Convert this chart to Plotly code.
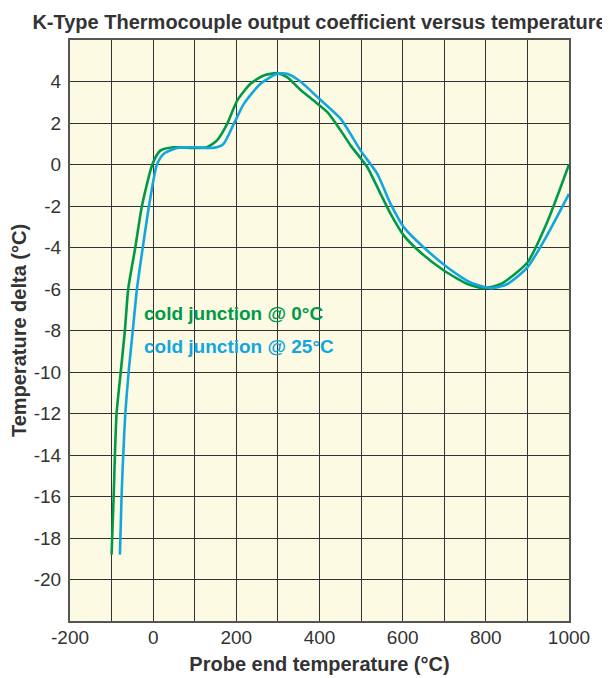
import plotly.graph_objects as go

# Cold junction @ 0°C (green)
green_x = [-100, -95, -92, -88, -78, -68, -60, -43, -27, -2, 17, 49, 97, 129, 153, 178,
           202, 234, 266, 298, 322, 354, 386, 419, 451, 475, 515, 547, 571, 603, 643,
           700, 756, 796, 836, 900, 949, 1000]
green_y = [-18.8, -16, -14, -12, -10, -8, -6, -4, -2, 0, 0.67, 0.83, 0.8, 0.83, 1.15, 1.96,
           3.08, 3.89, 4.29, 4.4, 4.21, 3.6, 3.08, 2.52, 1.64, 0.91, -0.13, -1.42, -2.38,
           -3.43, -4.24, -5.12, -5.76, -5.96, -5.76, -4.72, -2.71, 0]

# Cold junction @ 25°C (blue)
blue_x = [-80, -76, -72, -67, -59, -49, -39, -25, -10, 9, 25, 57, 97, 145, 169, 194, 218,
          258, 298, 322, 354, 402, 451, 499, 539, 571, 603, 651, 708, 764, 812, 852, 900,
          949, 1000]
blue_y = [-18.8, -16, -14, -12, -10, -8, -6, -4, -2, 0, 0.51, 0.8, 0.83, 0.8, 0.99, 1.96,
          2.92, 3.89, 4.37, 4.37, 4.0, 3.12, 2.2, 0.67, -0.45, -1.9, -3.03, -4.0, -4.96,
          -5.69, -5.96, -5.76, -4.96, -3.35, -1.42]

x_tickvals = list(range(-200, 1001, 100))
x_ticktext = [str(v) if v % 200 == 0 else "" for v in x_tickvals]
y_tickvals = list(range(-22, 7, 2))
y_ticktext = [str(v) if -20 <= v <= 4 else "" for v in y_tickvals]

GREEN = "#00994A"
BLUE = "#12A6E0"
TXT = "#333333"
FONT = "Liberation Sans, Arial, sans-serif"

W, H = 602, 670  # page body has an 8px margin

fig = go.Figure()
fig.add_trace(go.Scatter(x=green_x, y=green_y, mode="lines",
                         line=dict(color=GREEN, width=2.6, shape="spline", smoothing=0.6),
                         name="cold junction @ 0°C", showlegend=False))
fig.add_trace(go.Scatter(x=blue_x, y=blue_y, mode="lines",
                         line=dict(color=BLUE, width=2.6, shape="spline", smoothing=0.6),
                         name="cold junction @ 25°C", showlegend=False))

fig.add_annotation(x=-27, y=-7.2, xref="x", yref="y", xanchor="left", yanchor="middle",
                   text="<b>cold junction @ 0°C</b>", showarrow=False,
                   font=dict(family=FONT, size=19, color=GREEN))
fig.add_annotation(x=-27, y=-8.75, xref="x", yref="y", xanchor="left", yanchor="middle",
                   text="<b>cold junction @ 25°C</b>", showarrow=False,
                   font=dict(family=FONT, size=19, color=BLUE))

fig.update_layout(
    width=W, height=H,
    margin=dict(l=62, r=41, t=32, b=57, autoexpand=False),
    paper_bgcolor="white",
    plot_bgcolor="#FDFAE3",
    font=dict(family=FONT, size=19, color=TXT),
    title=dict(text="<b>K-Type Thermocouple output coefficient versus temperature</b>",
               x=0.5, xref="paper", xanchor="center", y=1 - 14 / H, yref="container",
               yanchor="middle", automargin=False,
               font=dict(family=FONT, size=20, color=TXT)),
)
fig.update_xaxes(range=[-200, 1000], tickvals=x_tickvals, ticktext=x_ticktext,
                 showgrid=True, gridcolor="#333333", gridwidth=1,
                 showline=True, linecolor="#555555", linewidth=2, mirror=True,
                 zeroline=False, ticks="", ticklabelstandoff=-2, automargin=False,
                 title=dict(text="<b>Probe end temperature (°C)</b>", standoff=10,
                            font=dict(family=FONT, size=20, color=TXT)))
fig.update_yaxes(range=[-22, 6], tickvals=y_tickvals, ticktext=y_ticktext,
                 showgrid=True, gridcolor="#333333", gridwidth=1,
                 showline=True, linecolor="#555555", linewidth=2, mirror=True,
                 zeroline=False, ticks="", ticklabelstandoff=3, automargin=False,
                 title=dict(text="<b>Temperature delta (°C)</b>", standoff=4,
                            font=dict(family=FONT, size=20, color=TXT)))
fig.write_html("out.html")
